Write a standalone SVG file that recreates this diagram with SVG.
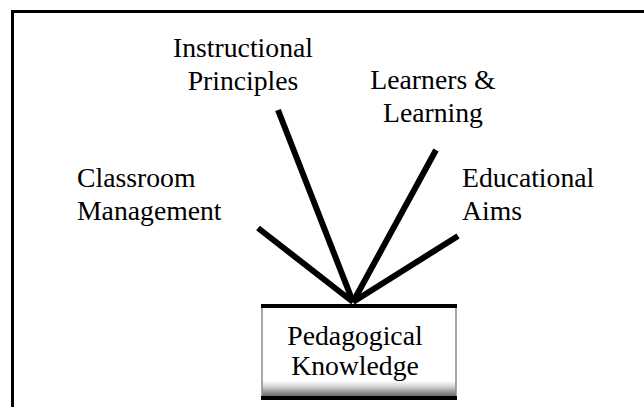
<svg xmlns="http://www.w3.org/2000/svg" width="644" height="407" viewBox="0 0 644 407">
<style>
.t{font-family:"Liberation Serif","Times New Roman",serif;font-size:27.7px;fill:#000}
.c{stroke:#000;stroke-width:6;stroke-linecap:butt;fill:none}
</style>
<defs>
<linearGradient id="bev" x1="0" y1="0" x2="0" y2="1">
<stop offset="0" stop-color="#ffffff"/>
<stop offset="0.82" stop-color="#ffffff"/>
<stop offset="0.88" stop-color="#d8d8d8"/>
<stop offset="0.95" stop-color="#909090"/>
<stop offset="1" stop-color="#606060"/>
</linearGradient>
</defs>
<rect x="0" y="0" width="644" height="407" fill="#fff"/>
<rect id="frame" x="12.5" y="11.5" width="700" height="500" fill="none" stroke="#000" stroke-width="3"/>
<g id="connectors">
<line class="c" x1="258" y1="228" x2="353" y2="302"/>
<line class="c" x1="278" y1="110" x2="353" y2="302"/>
<line class="c" x1="436" y1="150" x2="353" y2="302"/>
<line class="c" x1="458" y1="236" x2="353" y2="302"/>
</g>
<g id="node-pedagogical">
<rect x="262" y="306" width="194" height="91" fill="url(#bev)" stroke="#8a8a8a" stroke-width="1.5"/>
<line x1="261" y1="306" x2="457" y2="306" stroke="#000" stroke-width="4"/>
<line x1="261" y1="398" x2="457" y2="398" stroke="#000" stroke-width="4"/>
<text class="t" x="355" y="345" text-anchor="middle">Pedagogical</text>
<text class="t" x="355" y="375" text-anchor="middle">Knowledge</text>
</g>
<g id="node-instructional">
<text class="t" x="243" y="57" text-anchor="middle">Instructional</text>
<text class="t" x="243" y="90" text-anchor="middle">Principles</text>
</g>
<g id="node-learners">
<text class="t" x="433" y="89" text-anchor="middle">Learners &amp;</text>
<text class="t" x="433" y="122" text-anchor="middle">Learning</text>
</g>
<g id="node-classroom">
<text class="t" x="77" y="187">Classroom</text>
<text class="t" x="77" y="220">Management</text>
</g>
<g id="node-educational">
<text class="t" x="462" y="187">Educational</text>
<text class="t" x="462" y="220">Aims</text>
</g>
</svg>
